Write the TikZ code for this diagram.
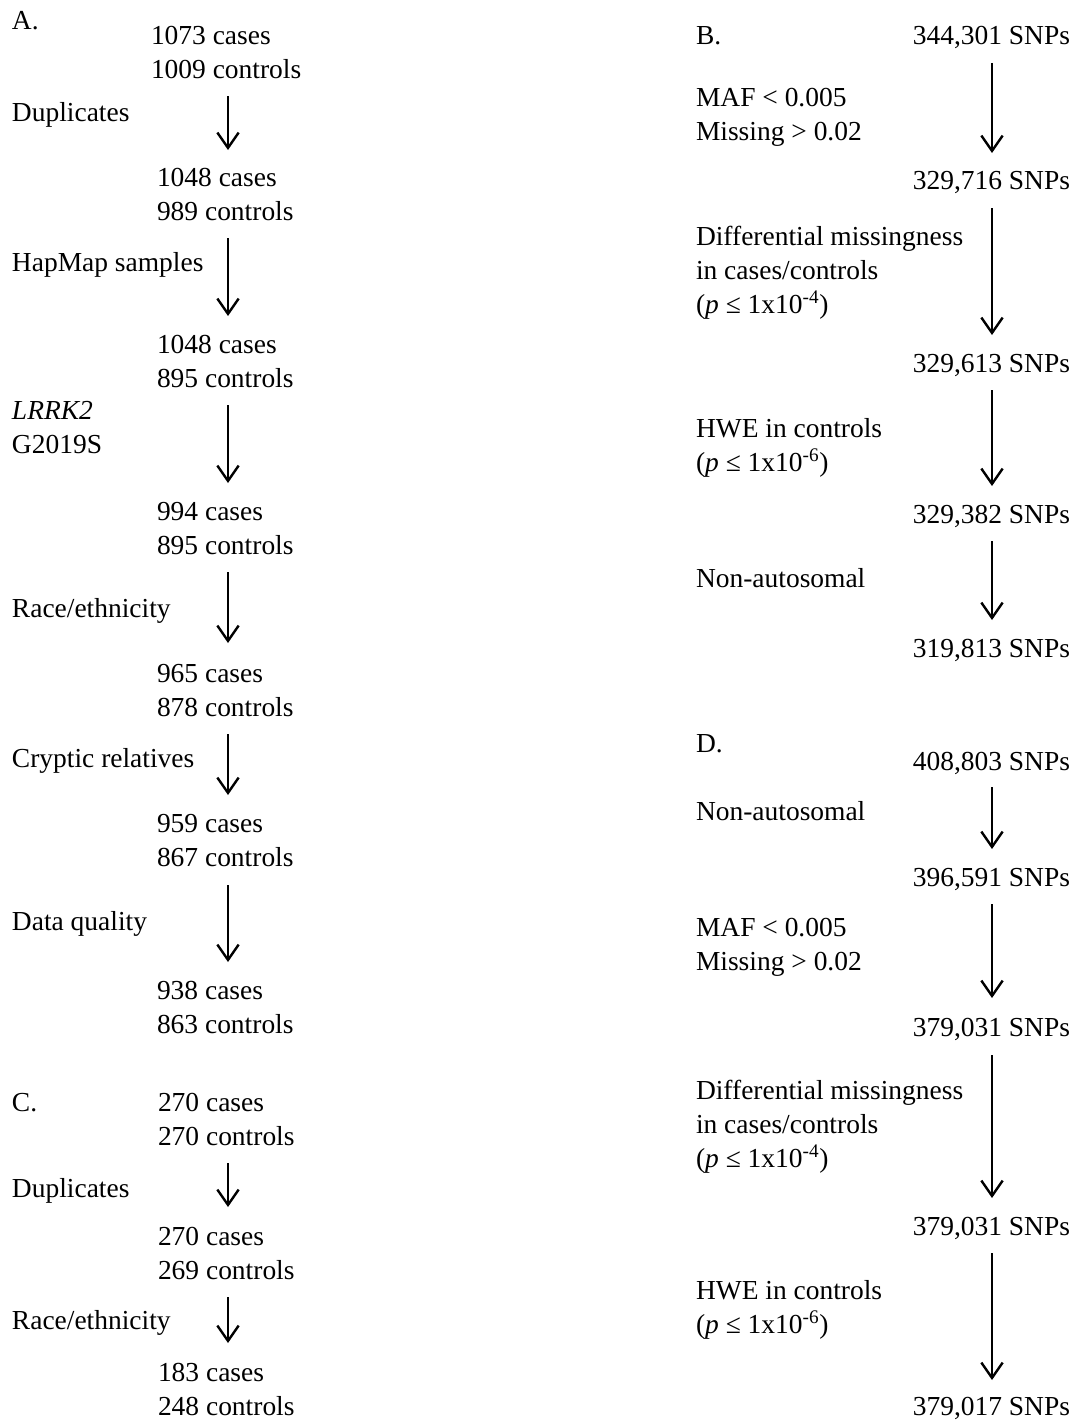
\documentclass[tikz,border=0pt]{standalone}
\usepackage{fontspec}
\setmainfont{Liberation Serif}
\usetikzlibrary{arrows.meta}
\begin{document}
\begin{tikzpicture}[x=0.75pt,y=-0.75pt,
 txt/.style={inner sep=0pt,outer sep=0pt,align=left,anchor=north west,font=\fontsize{20.6}{25.5}\selectfont},
 cnt/.style={txt,anchor=north east,align=right},
 flow/.style={-{Straight Barb[length=11.5pt,width=16pt]},line width=1.8pt}]
\useasboundingbox (0,0) rectangle (1078,1420);
% Panel A
\node[txt] (A) at (12,11) {A.};
\node[txt] (a0) at (151,26) {1073 cases\\1009 controls};
\node[txt] (f1) at (12,102) {Duplicates};
\node[txt] (a1) at (157,168) {1048 cases\\989 controls};
\node[txt] (f2) at (12,252) {HapMap samples};
\node[txt] (a2) at (157,335) {1048 cases\\895 controls};
\node[txt] (f3) at (12,401) {\textit{LRRK2}\\G2019S};
\node[txt] (a3) at (157,502) {994 cases\\895 controls};
\node[txt] (f4) at (12,598) {Race/ethnicity};
\node[txt] (a4) at (157,664) {965 cases\\878 controls};
\node[txt] (f5) at (12,748) {Cryptic relatives};
\node[txt] (a5) at (157,814) {959 cases\\867 controls};
\node[txt] (f6) at (12,911) {Data quality};
\node[txt] (a6) at (157,981) {938 cases\\863 controls};
\foreach \i/\t/\b in {1/96/150,2/238/316,3/405/483,4/572/643,5/734/795,6/885/962}{
  \coordinate (as\i) at (228,\t);
  \coordinate (ae\i) at (228,\b);
  \draw[flow] (as\i) -- (ae\i);
}
% Panel C
\node[txt] (C) at (12,1093) {C.};
\node[txt] (c0) at (158,1093) {270 cases\\270 controls};
\node[txt] (g1) at (12,1178) {Duplicates};
\node[txt] (c1) at (158,1227) {270 cases\\269 controls};
\node[txt] (g2) at (12,1310) {Race/ethnicity};
\node[txt] (c2) at (158,1363) {183 cases\\248 controls};
\foreach \i/\t/\b in {1/1163/1207,2/1297/1343}{
  \coordinate (cs\i) at (228,\t);
  \coordinate (ce\i) at (228,\b);
  \draw[flow] (cs\i) -- (ce\i);
}
% Panel B
\node[txt] (B) at (696,27) {B.};
\node[cnt] (b0) at (1070,26) {344,301 SNPs};
\node[txt] (h1) at (696,88) {MAF < 0.005\\Missing > 0.02};
\node[cnt] (b1) at (1070,171) {329,716 SNPs};
\node[txt] (h2) at (696,226) {Differential missingness\\in cases/controls\\(\textit{p} ≤ 1x10\textsuperscript{-4})};
\node[cnt] (b2) at (1070,354) {329,613 SNPs};
\node[txt] (h3) at (696,418) {HWE in controls\\(\textit{p} ≤ 1x10\textsuperscript{-6})};
\node[cnt] (b3) at (1070,505) {329,382 SNPs};
\node[txt] (h4) at (696,568) {Non-autosomal};
\node[cnt] (b4) at (1070,639) {319,813 SNPs};
\foreach \i/\t/\b in {1/63/153,2/208/335,3/390/486,4/541/620}{
  \coordinate (bs\i) at (992,\t);
  \coordinate (be\i) at (992,\b);
  \draw[flow] (bs\i) -- (be\i);
}
% Panel D
\node[txt] (D) at (696,735) {D.};
\node[cnt] (d0) at (1070,752) {408,803 SNPs};
\node[txt] (k1) at (696,801) {Non-autosomal};
\node[cnt] (d1) at (1070,868) {396,591 SNPs};
\node[txt] (k2) at (696,918) {MAF < 0.005\\Missing > 0.02};
\node[cnt] (d2) at (1070,1018) {379,031 SNPs};
\node[txt] (k3) at (696,1080) {Differential missingness\\in cases/controls\\(\textit{p} ≤ 1x10\textsuperscript{-4})};
\node[cnt] (d3) at (1070,1217) {379,031 SNPs};
\node[txt] (k4) at (696,1280) {HWE in controls\\(\textit{p} ≤ 1x10\textsuperscript{-6})};
\node[cnt] (d4) at (1070,1397) {379,017 SNPs};
\foreach \i/\t/\b in {1/787/849,2/904/998,3/1055/1198,4/1253/1380}{
  \coordinate (ds\i) at (992,\t);
  \coordinate (de\i) at (992,\b);
  \draw[flow] (ds\i) -- (de\i);
}
\end{tikzpicture}
\end{document}
